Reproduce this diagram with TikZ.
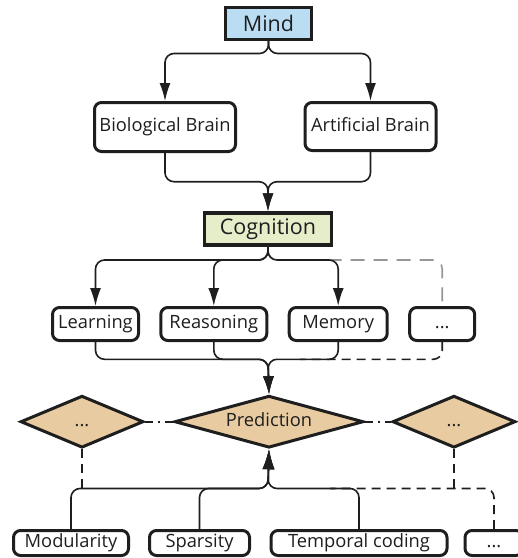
\documentclass[tikz,border=0pt]{standalone}
\usepackage{fontspec}
\setmainfont{Open Sans}
\usetikzlibrary{shapes.geometric,arrows.meta}
\definecolor{mindfill}{RGB}{187,221,243}
\definecolor{cogfill}{RGB}{230,237,201}
\definecolor{diafill}{RGB}{232,203,160}
\definecolor{ink}{RGB}{30,30,30}
\definecolor{greydash}{RGB}{150,150,150}
\begin{document}
\begin{tikzpicture}[x=1pt,y=-1pt,
  topbox/.style={draw=ink,line width=3.4pt,inner sep=0pt,text=ink,font=\fontsize{21.5}{24}\selectfont},
  rbox/.style={draw=ink,line width=3pt,rounded corners=7pt,fill=white,inner sep=0pt,text=ink,
    text height=13pt,text depth=4pt,font=\fontsize{18.3}{20}\selectfont},
  dia/.style={diamond,aspect=3.5,draw=ink,line width=3pt,fill=diafill,inner sep=0pt,
    minimum width=#1,minimum height=52pt,text=ink,text height=13pt,text depth=4pt,
    font=\fontsize{18.3}{20}\selectfont},
  conn/.style={draw=ink,line width=1.6pt,rounded corners=9pt},
  bigtip/.style={-{Latex[length=18pt,width=11pt]}},
  blackdash/.style={conn,dash pattern=on 9pt off 6pt},
  greydashed/.style={draw=greydash,line width=1.6pt,rounded corners=9pt,dash pattern=on 14pt off 9pt},
  dashdot/.style={draw=ink,line width=1.6pt,dash pattern=on 8pt off 5pt on 2pt off 5pt}
]
\useasboundingbox (0,0) rectangle (518,558);

% top level
\node[topbox,fill=mindfill,minimum width=86pt,minimum height=32pt] (mind) at (268.5,23.5) {Mind};
\node[rbox,minimum width=141pt,minimum height=49pt] (bio) at (165,127) {Biological Brain};
\node[rbox,minimum width=131pt,minimum height=48pt] (art) at (370.5,126.5) {Artificial Brain};
\node[topbox,fill=cogfill,minimum width=127pt,minimum height=32pt] (cog) at (268,229) {Cognition};

% second row
\node[rbox,minimum width=86pt,minimum height=33pt] (learn) at (95.5,324) {Learning};
\node[rbox,minimum width=106pt,minimum height=33pt] (reason) at (213.8,324) {Reasoning};
\node[rbox,minimum width=98pt,minimum height=33pt] (mem) at (338.2,324) {Memory};
\node[rbox,minimum width=65pt,minimum height=33pt] (dots1) at (442.2,324) {...};

% diamonds
\node[dia=189pt] (pred) at (269,421.7) {Prediction};
\node[dia=123pt] (ldia) at (82,421.7) {...};
\node[dia=123pt] (rdia) at (454,421.7) {...};

% bottom row
\node[rbox,minimum width=115pt,minimum height=25pt] (mod) at (71,543) {Modularity};
\node[rbox,minimum width=100pt,minimum height=25pt] (spar) at (199.5,543) {Sparsity};
\node[rbox,minimum width=176pt,minimum height=25pt] (temp) at (359,543) {Temporal coding};
\node[rbox,minimum width=58pt,minimum height=25pt] (dots2) at (494,543) {...};

% Mind -> brains
\draw[conn,bigtip] (mind.south) -- (268.5,53.5) -| (bio.north);
\draw[conn,bigtip] (mind.south) -- (268.5,53.5) -| (art.north);

% brains -> Cognition
\draw[conn,bigtip] (bio.south) |- (268,181.7) -- (cog.north);
\draw[conn,bigtip] (art.south) |- (268,181.7) -- (cog.north);

% Cognition -> processes
\draw[greydashed] (cog.south) -- (268,260) -| (dots1.north);
\draw[conn,bigtip] (cog.south) -- (268,260) -| (learn.north);
\draw[conn,bigtip] (cog.south) -- (268,260) -| (reason.north);
\draw[conn,bigtip] (cog.south) -- (268,260) -| (mem.north);

% processes -> Prediction
\draw[blackdash] (dots1.south) |- (300,359.3);
\draw[conn,bigtip] (learn.south) |- (268,359.3) -- (pred.north);
\draw[conn,bigtip] (reason.south) |- (268,359.3) -- (pred.north);
\draw[conn,bigtip] (mem.south) |- (268,359.3) -- (pred.north);

% diamonds links
\draw[dashdot] (ldia.east) -- (pred.west);
\draw[dashdot] (pred.east) -- (rdia.west);

% bottom -> Prediction
\draw[blackdash] (ldia.south) -- (82,488.5);
\draw[blackdash] (rdia.south) -- (454,488.5);
\draw[blackdash] (dots2.north) |- (330,488.5);
\draw[conn,-{Latex[length=20pt,width=12pt]}] (mod.north) |- (268,488.5) -- (pred.south);
\draw[conn,-{Latex[length=20pt,width=12pt]}] (spar.north) |- (268,488.5) -- (pred.south);
\draw[conn,-{Latex[length=20pt,width=12pt]}] (temp.north) |- (268,488.5) -- (pred.south);
\end{tikzpicture}
\end{document}
